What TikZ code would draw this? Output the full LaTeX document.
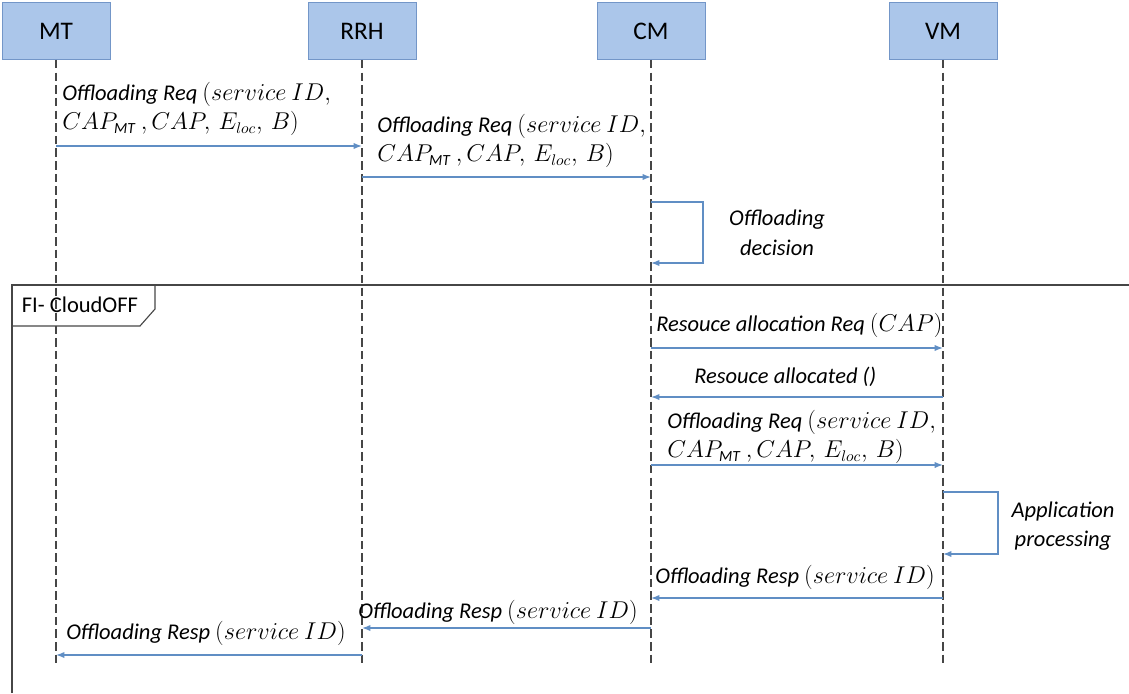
\documentclass[tikz,border=0pt]{standalone}
\usepackage{fontspec}
\setmainfont{Carlito}
\usetikzlibrary{arrows.meta}
\definecolor{boxfill}{RGB}{171,198,234}
\definecolor{boxline}{RGB}{115,150,200}
\definecolor{msgblue}{RGB}{96,142,196}
\definecolor{lifegray}{RGB}{70,70,70}
\tikzset{
  actor/.style={draw=boxline, fill=boxfill, minimum width=2.7cm, minimum height=1.43cm,
    font=\fontsize{18}{20}\selectfont},
  lifeline/.style={lifegray, line width=1.1pt, dash pattern=on 6pt off 3pt},
  msg/.style={msgblue, line width=0.9pt, -{Latex[length=6pt,width=4.5pt]}},
  msglabel/.style={anchor=west, align=left, inner sep=0pt, font=\fontsize{16}{21}\selectfont\itshape},
  notelabel/.style={align=center, inner sep=0pt, font=\fontsize{16}{21}\selectfont\itshape}
}
\newcommand{\offreq}{Offloading Req $(service\ ID,$\\$CAP_{\mbox{\fontsize{11}{12}\selectfont\itshape MT}}\ ,CAP,\,E_{loc},\,B)$}
\newcommand{\offresp}{Offloading Resp $(service\ ID)$}

\begin{document}
\begin{tikzpicture}[x=0.025cm, y=-0.025cm]
    \useasboundingbox (0,0) rectangle (1129,693);

    \node[actor] (MT) at (56,31) {MT};
    \node[actor] (RRH) at (362,31) {RRH};
    \node[actor] (CM) at (651,31) {CM};
    \node[actor] (VM) at (943,31) {VM};

    \coordinate (MTend) at (56,665);
    \coordinate (RRHend) at (362,665);
    \coordinate (CMend) at (651,665);
    \coordinate (VMend) at (943,665);

    \draw[lifeline] (MT.south) -- (MTend);
    \draw[lifeline] (RRH.south) -- (RRHend);
    \draw[lifeline] (CM.south) -- (CMend);
    \draw[lifeline] (VM.south) -- (VMend);

    % requests
    \node[msglabel] (req1) at (62,109) {\offreq};
    \draw[msg] (MT |- 0,146) -- (RRH |- 0,146);
    \node[msglabel] (req2) at (377,141) {\offreq};
    \draw[msg] (RRH |- 0,177) -- (CM |- 0,177);

    \draw[msg] (CM |- 0,202) -- (703,202) -- (703,263) -- (CM |- 0,263);
    \node[notelabel] (dec) at (777,233) {Offloading\\decision};

    % frame
    \draw[lifegray, line width=1.2pt] (12,693) -- (12,285) -- (1129,285);
    \draw[lifegray, line width=0.8pt] (155,285) -- (155,309) -- (140,326) -- (12,326);
    \node[font=\fontsize{16}{18}\selectfont] (frame) at (80,305) {FI- CloudOFF};

    \node[msglabel] (alloc) at (656,325) {Resouce allocation Req $(CAP)$};
    \draw[msg] (CM |- 0,348) -- (VM |- 0,348);
    \node[msglabel] (allocd) at (694,377) {Resouce allocated ()};
    \draw[msg] (VM |- 0,397) -- (CM |- 0,397);
    \node[msglabel] (req3) at (667,437) {\offreq};
    \draw[msg] (CM |- 0,465) -- (VM |- 0,465);

    \draw[msg] (VM |- 0,492) -- (998,492) -- (998,554) -- (VM |- 0,554);
    \node[notelabel] (proc) at (1063,526) {Application\\processing};

    % responses
    \node[msglabel] (resp1) at (655,577) {\offresp};
    \draw[msg] (VM |- 0,598) -- (CM |- 0,598);
    \node[msglabel] (resp2) at (358,612) {\offresp};
    \draw[msg] (CM |- 0,628) -- (RRH |- 0,628);
    \node[msglabel] (resp3) at (66,633) {\offresp};
    \draw[msg] (RRH |- 0,655) -- (MT |- 0,655);
\end{tikzpicture}
\end{document}
